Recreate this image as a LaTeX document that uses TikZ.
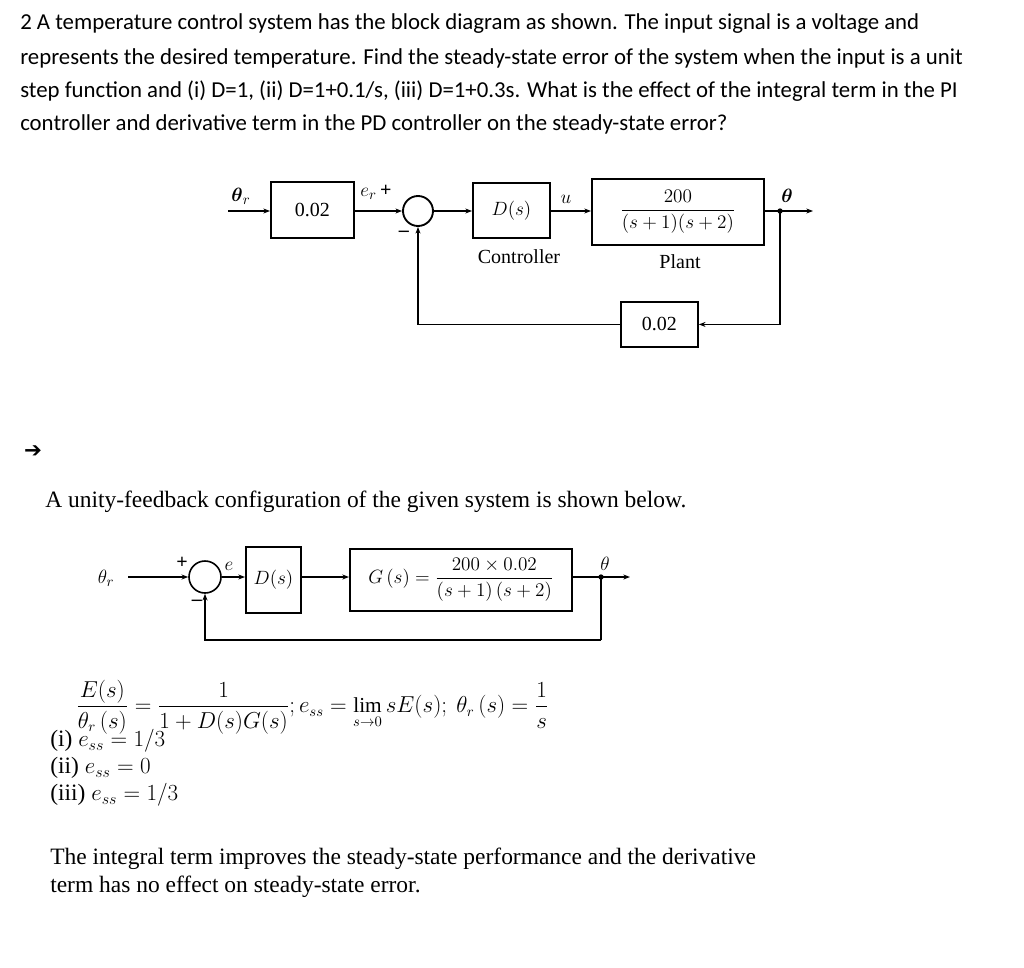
\documentclass[tikz,border=0pt]{standalone}
\usepackage{amsmath}
\usepackage{fontspec}
\setmainfont{Liberation Serif}
\newfontfamily\hdfont{Carlito}
\newfontfamily\symfont{DejaVu Sans}
\usetikzlibrary{arrows.meta}
\begin{document}
\begin{tikzpicture}[x=0.75pt,y=-0.75pt,
  blk/.style={draw,line width=1.4pt,inner sep=0pt,anchor=north west},
  sig/.style={line width=1.4pt,-{Stealth[length=5pt]}},
  ln/.style={line width=1.4pt},
  hd/.style={anchor=west,inner sep=0pt,font=\hdfont\fontsize{17.1}{20}\selectfont},
  tx/.style={anchor=west,inner sep=0pt,font=\fontsize{17.6}{20}\selectfont},
  dl/.style={inner sep=0pt,font=\fontsize{15}{17}\selectfont}]
\useasboundingbox (0,0) rectangle (1024,967);
\fill[white] (0,0) rectangle (1024,967);
% heading
\node[hd] (h1) at (20,24) {2 A temperature control system has the block diagram as shown. The input signal is a voltage and};
\node[hd] (h2) at (20,58) {represents the desired temperature. Find the steady-state error of the system when the input is a unit};
\node[hd] (h3) at (20,91) {step function and (i) D=1, (ii) D=1+0.1/s, (iii) D=1+0.3s. What is the effect of the integral term in the PI};
\node[hd] (h4) at (20,124) {controller and derivative term in the PD controller on the steady-state error?};
% top diagram
\coordinate (in1) at (228,211);
\node[blk,minimum width=83*0.75pt,minimum height=56*0.75pt,dl] (k1) at (270,181) {0.02};
\node[draw,circle,line width=1.4pt,minimum size=30*0.75pt,inner sep=0pt] (s1) at (418,211) {};
\node[blk,minimum width=77*0.75pt,minimum height=55*0.75pt,dl] (d1) at (472,182) {$D(s)$};
\node[blk,minimum width=172*0.75pt,minimum height=66*0.75pt,dl] (p1) at (591,178) {$\dfrac{200}{(s+1)(s+2)}$};
\coordinate (b1) at (780,211);
\coordinate (o1) at (813,211);
\node[blk,minimum width=77*0.75pt,minimum height=45*0.75pt,dl] (f1) at (620,301) {0.02};
\draw[sig] (in1) -- (in1-|k1.west);
\draw[sig] (k1.east|-s1) -- (s1.west);
\draw[sig] (s1.east) -- (s1-|d1.west);
\draw[sig] (d1.east|-s1) -- (s1-|p1.west);
\draw[sig] (p1.east|-s1) -- (o1);
\fill (b1) circle (2pt);
\draw[sig] (b1) |- (f1.east);
\draw[sig] (f1.west) -| (s1.south);
\node[dl] (l1) at (241,196) {$\boldsymbol{\theta}_r$};
\node[dl] (l2) at (376,192) {$e_r$\,\textbf{+}};
\node[dl] (l3) at (404,234) {\textbf{–}};
\node[dl] (l4) at (566,199) {$u$};
\node[dl] (l5) at (787,196) {$\boldsymbol{\theta}$};
\node[dl] (l6) at (519,257) {Controller};
\node[dl] (l7) at (680,262) {Plant};
% arrow marker
\node[inner sep=0pt,font=\symfont\fontsize{16}{16}\selectfont] (ar) at (33,452) {➔};
\node[tx] (t1) at (45,502) {A unity-feedback configuration of the given system is shown below.};
% second diagram
\node[dl] (th) at (106,578) {$\theta_r$};
\node[draw,circle,line width=1.2pt,minimum size=32*0.75pt,inner sep=0pt] (s2) at (205,577) {};
\node[blk,minimum width=55*0.75pt,minimum height=66*0.75pt,dl] (d2) at (245,546) {$D(s)$};
\node[blk,minimum width=222*0.75pt,minimum height=62*0.75pt,dl] (p2) at (349,548) {$G\,(s)=\dfrac{200\times0.02}{(s+1)\,(s+2)}$};
\coordinate (b2) at (601,577);
\coordinate (o2) at (630,577);
\coordinate (f2) at (601,640);
\coordinate (i2) at (128,577);
\draw[sig] (i2) -- (s2.west);
\draw[sig] (s2.east) -- (s2-|d2.west);
\draw[sig] (d2.east|-s2) -- (s2-|p2.west);
\draw[sig] (p2.east|-s2) -- (o2);
\fill (b2) circle (2pt);
\draw[ln] (b2) -- (f2);
\draw[sig] (f2) -| (s2.south);
\node[dl] (m1) at (182,563) {\textbf{+}};
\node[dl] (m2) at (197,603) {\textbf{–}};
\node[dl] (m3) at (229,566) {$e$};
\node[dl] (m4) at (605,564) {$\theta$};
% equations
\node[anchor=west,inner sep=0pt,font=\fontsize{16}{19}\selectfont] (eq) at (76,707) {$\dfrac{E(s)}{\theta_r\,(s)}=\dfrac{1}{1+D(s)G(s)};e_{ss}=\lim\limits_{s\to0}sE(s);\ \theta_r\,(s)=\dfrac{1}{s}$};
\node[tx] (r1) at (50,741) {(i) $e_{ss}=1/3$};
\node[tx] (r2) at (50,768) {(ii) $e_{ss}=0$};
\node[tx] (r3) at (50,795) {(iii) $e_{ss}=1/3$};
\node[tx] (c1) at (50,859) {The integral term improves the steady-state performance and the derivative};
\node[tx] (c2) at (50,887) {term has no effect on steady-state error.};
\end{tikzpicture}
\end{document}
